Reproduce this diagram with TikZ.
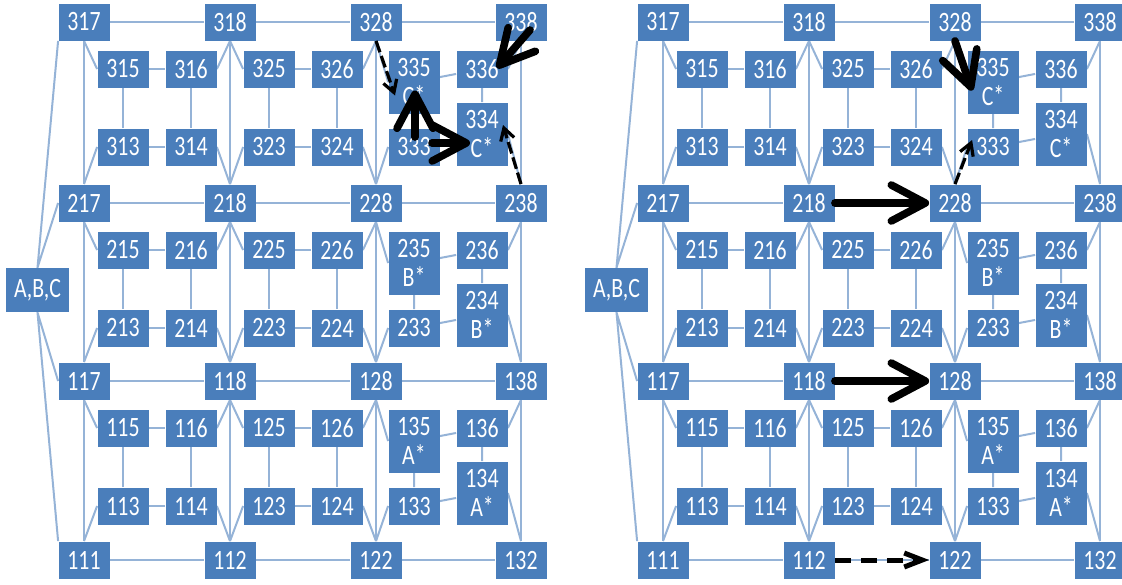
\documentclass[tikz,border=0pt]{standalone}
\usepackage{fontspec}
\setmainfont{Carlito}[FakeStretch=0.78]
\usetikzlibrary{arrows.meta, calc, backgrounds}
\definecolor{boxblue}{RGB}{74,126,187}
\definecolor{wireblue}{RGB}{149,179,215}

\begin{document}
\begin{tikzpicture}[x=0.5pt, y=-0.5pt, font=\fontsize{14}{14.5}\selectfont,
    box/.style={fill=boxblue, text=white, inner sep=1pt, minimum width=25.5pt, minimum height=18.5pt, align=center},
    tallbox/.style={box, minimum height=31.5pt},
    wire/.style={wireblue, line width=1pt},
    bigarrow/.style={line width=3.8pt, line cap=round, -{Straight Barb[length=17pt, width=18pt, round]}},
    hintarrow/.style={line width=1.6pt, dash pattern=on 6pt off 2pt, -{Straight Barb[length=6pt, width=7pt]}}]
  \useasboundingbox (0,0) rectangle (1122,584);
  \foreach \p/\dx in {L/0, R/579} {
  \begin{scope}[shift={(\dx,0)}]
    % corner grid, rows 3..0 from top
    \foreach \i/\y in {3/22, 2/203, 1/381}
      \foreach \j/\x/\lab in {0/84/17, 1/230/18, 2/376/28, 3/521/38}
        \node[box] (\p g\i\j) at (\x,\y) {\i\lab};
    \foreach \j/\x/\lab in {0/84/111, 1/230/112, 2/376/122, 3/521/132}
      \node[box] (\p g0\j) at (\x,560) {\lab};
    % inner blocks
    \foreach \r/\y/\grp in {3/22/C, 2/203/B, 1/381/A} {
      \foreach \col/\x in {1/84, 2/230} {
        \node[box] (\p s\r\col5) at (\x+39,\y+47) {\r\col5};
        \node[box] (\p s\r\col6) at (\x+107,\y+47) {\r\col6};
        \node[box] (\p s\r\col3) at (\x+39,\y+125) {\r\col3};
        \node[box] (\p s\r\col4) at (\x+107,\y+125) {\r\col4};}
      \node[tallbox] (\p s\r35) at (376+38,\y+60) {\r35\\\grp*};
      \node[box] (\p s\r36) at (376+106,\y+47) {\r36};
      \node[box] (\p s\r33) at (376+38,\y+125) {\r33};
      \node[tallbox] (\p s\r34) at (376+106,\y+112) {\r34\\\grp*};}
    \node[box, minimum width=31.5pt, minimum height=22pt] (\p abc) at (37.5,290) {A,B,C};
    \begin{pgfonlayer}{background}
      \foreach \i in {0,...,3}
        \foreach \j/\k in {0/1, 1/2, 2/3} {
          \draw[wire] (\p g\i\j) -- (\p g\i\k);
          \draw[wire] (\p g\j\i) -- (\p g\k\i);}
      \foreach \r/\lo in {1/0, 2/1, 3/2}
        \foreach \col/\ca/\cb in {1/0/1, 2/1/2, 3/2/3} {
          \draw[wire] (\p s\r\col5) -- (\p s\r\col6) -- (\p s\r\col4) -- (\p s\r\col3) -- (\p s\r\col5);
          \draw[wire] (\p g\r\ca.south) -- (\p s\r\col5.west);
          \draw[wire] (\p g\r\cb.south) -- (\p s\r\col6.east);
          \draw[wire] (\p g\lo\ca.north) -- (\p s\r\col3.west);
          \draw[wire] (\p g\lo\cb.north) -- (\p s\r\col4.east);}
      \draw[wire] (\p g30.south west) -- (\p abc.north) -- (\p g20.west);
      \draw[wire] (\p g00.north west) -- (\p abc.south) -- (\p g10.west);
    \end{pgfonlayer}
  \end{scope}}
  % left: moves around the C block
  \draw[hintarrow] (Lg32.south) -- ($(Ls335)+(-19,13.5)$);
  \draw[bigarrow] ($(Lg33)+(9,8)$) -- ($(Ls336)+(15,-1)$);
  \draw[bigarrow] ($(Ls333)+(1,-10)$) -- ($(Ls335)+(1,8.5)$);
  \draw[bigarrow] ($(Ls333)+(18,-4)$) -- ($(Ls334)+(-12,9)$);
  \draw[hintarrow] (Lg23.north) -- ($(Ls334)+(21,-9)$);
  % right: moves along the middle column
  \draw[bigarrow] (Rg32.south) -- ($(Rs335)+(-21,8.5)$);
  \draw[bigarrow] (Rg21) -- (Rg22);
  \draw[hintarrow] (Rg22.north) -- ($(Rs333.west)+(5,-7)$);
  \draw[bigarrow] (Rg11) -- (Rg12);
  \draw[hintarrow, line width=2.5pt, dash pattern=on 8pt off 5pt,
    -{Straight Barb[length=9pt, width=7pt]}] (Rg01) -- (Rg02);
\end{tikzpicture}
\end{document}
